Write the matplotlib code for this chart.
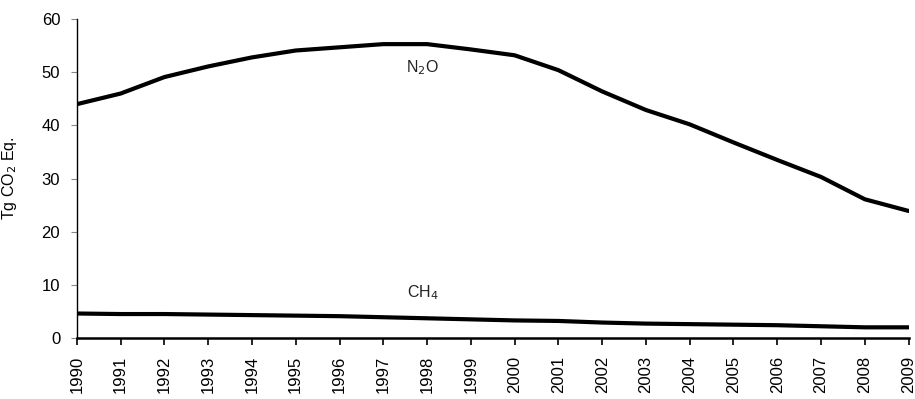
import matplotlib
matplotlib.use("Agg")
import matplotlib.pyplot as plt

plt.rcParams['font.family'] = ['Liberation Sans', 'DejaVu Sans']

years = list(range(1990, 2010))
n2o = [44.0, 46.0, 49.1, 51.1, 52.8, 54.1, 54.7, 55.3, 55.3, 54.3,
       53.2, 50.4, 46.4, 42.9, 40.2, 36.8, 33.5, 30.3, 26.1, 23.9]
ch4 = [4.6, 4.5, 4.5, 4.4, 4.3, 4.2, 4.1, 3.9, 3.7, 3.5,
       3.3, 3.2, 2.9, 2.7, 2.6, 2.5, 2.4, 2.2, 2.0, 2.0]

fig = plt.figure(figsize=(9.15, 3.99), dpi=100)
ax = fig.add_axes([0.084, 0.153, 0.909, 0.799])

ax.plot(years, n2o, color='black', lw=3, solid_capstyle='round')
ax.plot(years, ch4, color='black', lw=3, solid_capstyle='round')

# series labels
ax.text(1997.9, 50.8, 'N$_2$O', fontsize=11.5, ha='center', va='center', color='#222222')
ax.text(1997.9, 8.5, 'CH$_4$', fontsize=11.5, ha='center', va='center', color='#222222')

ax.set_xlim(1990, 2009)
ax.set_ylim(0, 60)
ax.set_yticks(range(0, 61, 10))
ax.set_xticks(years)
ax.set_xticklabels([str(y) for y in years], rotation=90, fontsize=12)
ax.tick_params(axis='y', labelsize=12, length=4, color='#888888', width=0.8, pad=8)
ax.tick_params(axis='x', length=5, width=1.2, direction='out', pad=8)
ax.set_ylabel('Tg CO$_2$ Eq.', fontsize=11.5)
ax.yaxis.set_label_coords(-0.069, 0.5)

for s in ['top', 'right']:
    ax.spines[s].set_visible(False)
ax.spines['left'].set_linewidth(1.0)
ax.spines['bottom'].set_linewidth(1.8)

fig.savefig('out.png', dpi=100)
